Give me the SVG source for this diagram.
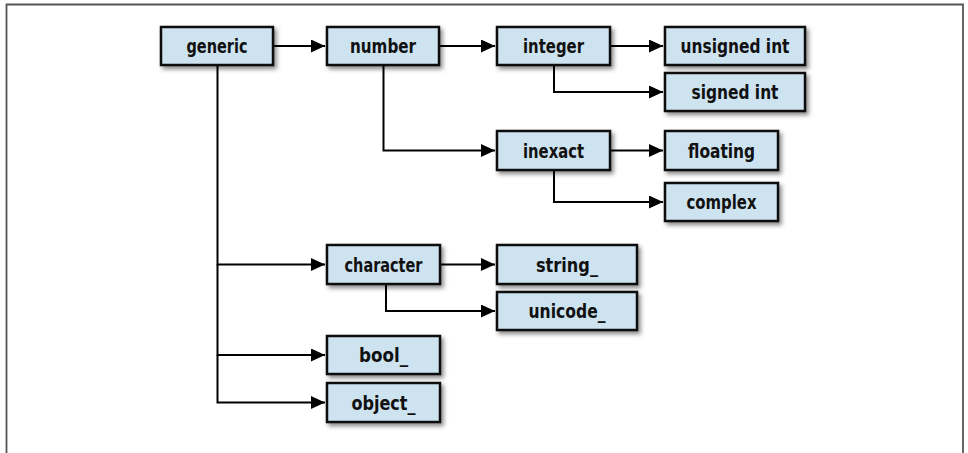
<svg xmlns="http://www.w3.org/2000/svg" width="968" height="453" viewBox="0 0 968 453">
<defs>
<style>
.box{fill:#cde3f0;stroke:#111;stroke-width:2.5;filter:url(#sh)}
.lbl{font-family:"DejaVu Sans Condensed","DejaVu Sans",sans-serif;font-stretch:condensed;font-weight:bold;font-size:20px;fill:#111;text-anchor:middle}
.con{fill:none;stroke:#000;stroke-width:2;marker-end:url(#ah)}
</style>
<filter id="sh" x="-20%" y="-30%" width="140%" height="170%">
<feDropShadow dx="2.5" dy="3" stdDeviation="2" flood-color="#000" flood-opacity="0.45"/>
</filter>
<marker id="ah" markerUnits="userSpaceOnUse" markerWidth="15" markerHeight="14" refX="14" refY="6.5" orient="auto">
<path d="M0,0 L14,6.5 L0,13 Z" fill="#000"/>
</marker>
</defs>
<rect width="968" height="453" fill="#fff"/>
<path d="M6.5,453 V4.5 H963 V453" fill="none" stroke="#555" stroke-width="1.8"/>
<g id="connectors">
<path class="con" d="M273,46 H325"/>
<path class="con" d="M439,46 H495"/>
<path class="con" d="M610,46 H663"/>
<path class="con" d="M554,65 V92 H663"/>
<path class="con" d="M383.5,65 V150.5 H495"/>
<path class="con" d="M610,150.5 H663"/>
<path class="con" d="M554,170 V202 H663"/>
<path class="con" d="M217.5,65 V264.5 H325"/>
<path class="con" d="M217.5,264.5 V355 H325"/>
<path class="con" d="M217.5,355 V402.5 H325"/>
<path class="con" d="M440,264.5 H495"/>
<path class="con" d="M386,284 V311 H495"/>
</g>
<g id="generic"><rect class="box" x="161" y="27" width="112" height="38"/><text class="lbl" x="217" y="53" textLength="61" lengthAdjust="spacingAndGlyphs">generic</text></g>
<g id="number"><rect class="box" x="327" y="27" width="112" height="38"/><text class="lbl" x="383" y="53" textLength="66" lengthAdjust="spacingAndGlyphs">number</text></g>
<g id="integer"><rect class="box" x="497" y="27" width="113" height="38"/><text class="lbl" x="553.5" y="53" textLength="61" lengthAdjust="spacingAndGlyphs">integer</text></g>
<g id="unsigned_int"><rect class="box" x="665" y="27" width="140" height="38"/><text class="lbl" x="735" y="53" textLength="109" lengthAdjust="spacingAndGlyphs">unsigned int</text></g>
<g id="signed_int"><rect class="box" x="665" y="73" width="140" height="38"/><text class="lbl" x="735" y="99" textLength="87" lengthAdjust="spacingAndGlyphs">signed int</text></g>
<g id="inexact"><rect class="box" x="497" y="131" width="113" height="39"/><text class="lbl" x="553.5" y="157.5" textLength="61" lengthAdjust="spacingAndGlyphs">inexact</text></g>
<g id="floating"><rect class="box" x="665" y="131" width="113" height="39"/><text class="lbl" x="721.5" y="157.5" textLength="67" lengthAdjust="spacingAndGlyphs">floating</text></g>
<g id="complex"><rect class="box" x="665" y="183" width="113" height="38"/><text class="lbl" x="721.5" y="209" textLength="70" lengthAdjust="spacingAndGlyphs">complex</text></g>
<g id="character"><rect class="box" x="327" y="245" width="113" height="39"/><text class="lbl" x="383.5" y="271.5" textLength="78" lengthAdjust="spacingAndGlyphs">character</text></g>
<g id="string_"><rect class="box" x="497" y="245" width="140" height="39"/><text class="lbl" x="567" y="271.5" textLength="62" lengthAdjust="spacingAndGlyphs">string_</text></g>
<g id="unicode_"><rect class="box" x="497" y="292" width="140" height="38"/><text class="lbl" x="567" y="318" textLength="77" lengthAdjust="spacingAndGlyphs">unicode_</text></g>
<g id="bool_"><rect class="box" x="327" y="336" width="113" height="38"/><text class="lbl" x="383.5" y="362" textLength="49" lengthAdjust="spacingAndGlyphs">bool_</text></g>
<g id="object_"><rect class="box" x="327" y="383" width="113" height="39"/><text class="lbl" x="383.5" y="409.5" textLength="64" lengthAdjust="spacingAndGlyphs">object_</text></g>
</svg>
